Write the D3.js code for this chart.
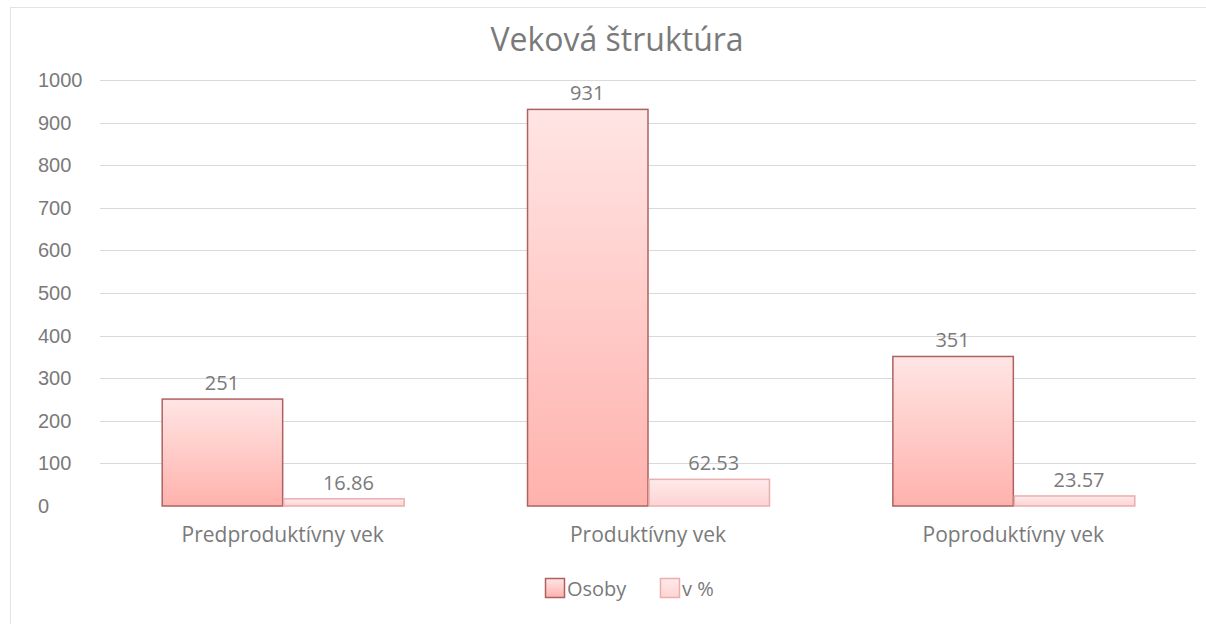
<!DOCTYPE html>
<html>
<head>
<meta charset="utf-8">
<script src="https://cdn.jsdelivr.net/npm/d3@7"></script>
<style>
  body { margin: 0; background: #fff; }
  svg { display: block; font-family: "Open Sans", "Noto Sans", sans-serif; }
</style>
</head>
<body>
<div id="chart"></div>
<script>
var categories = ['Predproduktívny vek', 'Produktívny vek', 'Poproduktívny vek'];
var seriesNames = ['Osoby', 'v %'];
var osoby = [251, 931, 351];
var percent = [16.86, 62.53, 23.57];
var yTicks = [0, 100, 200, 300, 400, 500, 600, 700, 800, 900, 1000];

var width = 1206, height = 624;
var textColor = '#7a7a7a';
var svg = d3.select('#chart').append('svg')
  .attr('width', width)
  .attr('height', height);

var defs = svg.append('defs');
function grad(id, top, bottom) {
  var g = defs.append('linearGradient').attr('id', id)
    .attr('x1', 0).attr('y1', 0).attr('x2', 0).attr('y2', 1);
  g.append('stop').attr('offset', '0%').attr('stop-color', top);
  g.append('stop').attr('offset', '100%').attr('stop-color', bottom);
}
grad('gOsoby', '#ffe5e4', '#ffb2ad');
grad('gPct', '#ffeaea', '#fdd3d3');

// chart frame
svg.append('rect')
  .attr('x', 10.5).attr('y', 7.5)
  .attr('width', 1220).attr('height', 640)
  .attr('fill', '#fff')
  .attr('stroke', '#e3e3e3');

var margin = {left: 100, right: 10, top: 80, bottom: 118};
var x0 = d3.scaleBand()
  .domain(categories)
  .range([margin.left, width - margin.right])
  .paddingInner(0.335).paddingOuter(0.1675);
var x1 = d3.scaleBand()
  .domain(seriesNames)
  .range([0, x0.bandwidth()]);
var y = d3.scaleLinear()
  .domain([0, 1000])
  .range([height - margin.bottom, margin.top]);

// gridlines
svg.append('g').selectAll('line')
  .data(yTicks.filter(function (d) { return d > 0; }))
  .enter().append('line')
  .attr('x1', margin.left).attr('x2', width - margin.right)
  .attr('y1', function (d) { return Math.round(y(d)) + 0.5; })
  .attr('y2', function (d) { return Math.round(y(d)) + 0.5; })
  .attr('stroke', '#d9d9d9').attr('stroke-width', 1);

// y axis, labels left aligned
var yAxis = svg.append('g')
  .attr('transform', 'translate(38,0)')
  .call(d3.axisLeft(y).tickValues(yTicks).tickFormat(d3.format('d')).tickSize(0).tickPadding(0));
yAxis.select('.domain').remove();
yAxis.selectAll('text')
  .attr('text-anchor', 'start')
  .attr('fill', textColor)
  .style('font-size', '20px');

var pal = {
  'Osoby': {fill: 'url(#gOsoby)', stroke: '#ad6262', dx: 0},
  'v %': {fill: 'url(#gPct)', stroke: '#eaaeae', dx: 5}
};
var rows = categories.map(function (c, i) {
  return {cat: c, vals: [
    {s: 'Osoby', v: osoby[i], label: String(osoby[i])},
    {s: 'v %', v: percent[i], label: percent[i].toFixed(2)}
  ]};
});

var groups = svg.append('g').selectAll('g')
  .data(rows).enter().append('g')
  .attr('transform', function (d) { return 'translate(' + x0(d.cat) + ',0)'; });

groups.selectAll('rect')
  .data(function (d) { return d.vals; })
  .enter().append('rect')
  .attr('x', function (d) { return x1(d.s) + 1; })
  .attr('y', function (d) { return y(d.v); })
  .attr('width', function (d) { return x1.bandwidth() - 1; })
  .attr('height', function (d) { return y(0) - y(d.v); })
  .attr('fill', function (d) { return pal[d.s].fill; })
  .attr('stroke', function (d) { return pal[d.s].stroke; })
  .attr('stroke-width', 1.5);

groups.selectAll('text.val')
  .data(function (d) { return d.vals; })
  .enter().append('text')
  .attr('class', 'val')
  .attr('x', function (d) { return x1(d.s) + x1.bandwidth() / 2 + pal[d.s].dx; })
  .attr('y', function (d) { return y(d.v) - 9; })
  .attr('text-anchor', 'middle')
  .attr('fill', textColor)
  .style('font-size', '20px')
  .text(function (d) { return d.label; });

// category axis labels
svg.append('g').selectAll('text')
  .data(categories).enter().append('text')
  .attr('x', function (d) { return x0(d) + x0.bandwidth() / 2; })
  .attr('y', y(0) + 36)
  .attr('text-anchor', 'middle')
  .attr('fill', textColor)
  .style('font-size', '21px')
  .text(function (d) { return d; });

// title
svg.append('text')
  .attr('x', 617).attr('y', 51)
  .attr('text-anchor', 'middle')
  .attr('fill', textColor)
  .style('font-size', '32px')
  .text('Veková štruktúra');

// legend
var legend = svg.append('g').attr('transform', 'translate(545,578)');
var lx = [0, 115];
seriesNames.forEach(function (s, i) {
  var g = legend.append('g').attr('transform', 'translate(' + lx[i] + ',0)');
  g.append('rect')
    .attr('x', 0.5).attr('y', 0.5).attr('width', 19).attr('height', 19)
    .attr('fill', pal[s].fill).attr('stroke', pal[s].stroke).attr('stroke-width', 1.5);
  g.append('text')
    .attr('x', 22).attr('y', 18)
    .attr('fill', textColor)
    .style('font-size', '20px')
    .text(s);
});
</script>
</body>
</html>
